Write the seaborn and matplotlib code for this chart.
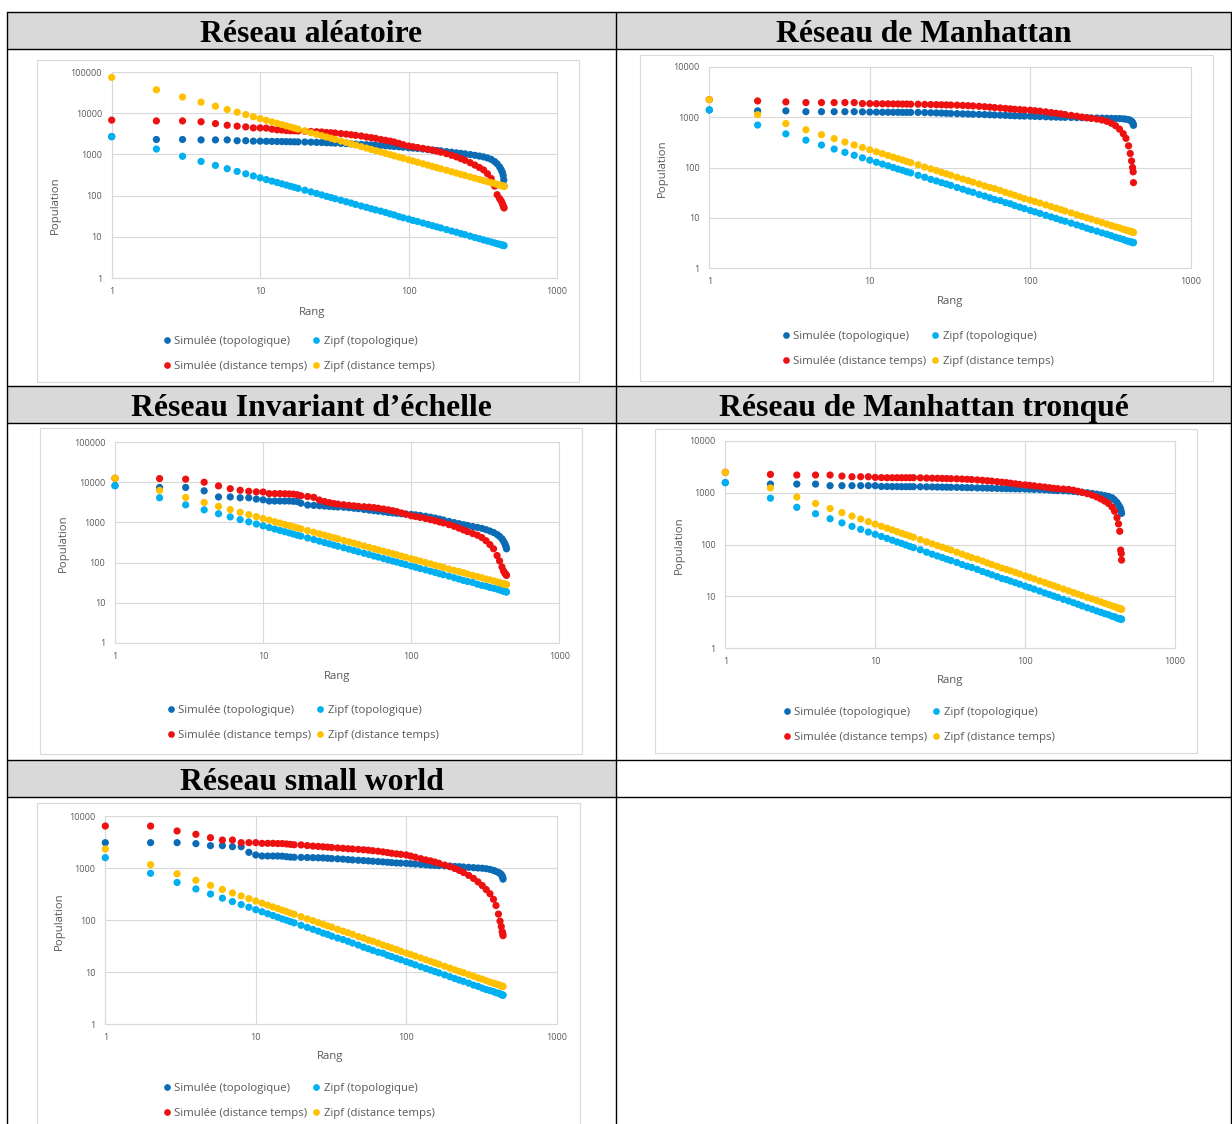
import pandas as pd
import matplotlib
matplotlib.use('Agg')
import matplotlib.pyplot as plt
from matplotlib.lines import Line2D
from matplotlib.patches import Rectangle
from matplotlib.ticker import NullLocator
import seaborn as sns

# Rangs communs à toutes les séries
rangs = [1, 2, 3, 4, 5, 6, 7, 8, 9, 10, 11, 12, 13, 14, 15, 16, 17, 18,
         20, 22, 24, 26, 28, 30, 32, 35, 38, 41, 44, 48,
         52, 56, 60, 65, 70, 75, 80, 86, 92, 100,
         107, 115, 125, 135, 145, 155, 165, 180, 195, 210,
         225, 240, 260, 280, 300, 320, 340, 360, 380, 395,
         410, 420, 428, 434, 438, 440]

# Réseau aléatoire
alea_sim_topo = [2700, 2300, 2300, 2250, 2250, 2250, 2150, 2150, 2100, 2100, 2080, 2070, 2060, 2050, 2040, 2030, 2020, 2010,
                 2000, 1980, 1960, 1940, 1920, 1900, 1880, 1850, 1830, 1800, 1780, 1750,
                 1720, 1700, 1680, 1650, 1620, 1590, 1560, 1530, 1490, 1450,
                 1420, 1390, 1350, 1310, 1280, 1250, 1220, 1170, 1130, 1090,
                 1060, 1030, 990, 950, 910, 870, 820, 760, 670, 590,
                 500, 430, 370, 310, 240, 170]
alea_zipf_topo = [2700, 1350, 900, 675, 540, 450, 386, 338, 300, 270, 245, 225, 208, 193, 180, 169, 159, 150,
                  135, 123, 113, 104, 96, 90, 84, 77, 71, 66, 61, 56,
                  52, 48, 45, 42, 39, 36, 34, 31, 29, 27,
                  25, 23.5, 21.6, 20, 18.6, 17.4, 16.4, 15, 13.8, 12.9,
                  12, 11.3, 10.4, 9.6, 9.0, 8.4, 7.9, 7.5, 7.1, 6.8,
                  6.6, 6.4, 6.3, 6.2, 6.2, 6.1]
alea_sim_temps = [6800, 6500, 6500, 6200, 5600, 5100, 4850, 4650, 4400, 4400, 4350, 4100, 3950, 3900, 3800, 3750, 3750, 3700,
                  3650, 3600, 3550, 3500, 3400, 3350, 3300, 3200, 3100, 3000, 2900, 2800,
                  2650, 2550, 2450, 2300, 2200, 2100, 2000, 1850, 1720, 1600,
                  1530, 1470, 1400, 1330, 1260, 1200, 1130, 1040, 950, 870,
                  790, 720, 630, 550, 480, 420, 340, 260, 170, 105,
                  85, 75, 65, 57, 52, 50]
alea_zipf_temps = [74000, 37000, 24700, 18500, 14800, 12300, 10600, 9250, 8220, 7400, 6730, 6170, 5690, 5290, 4930, 4630, 4350, 4110,
                   3700, 3360, 3080, 2850, 2640, 2470, 2310, 2110, 1950, 1800, 1680, 1540,
                   1420, 1320, 1230, 1140, 1060, 987, 925, 860, 804, 740,
                   692, 643, 592, 548, 510, 477, 448, 411, 379, 352,
                   329, 308, 285, 264, 247, 231, 218, 206, 195, 187,
                   180, 176, 173, 171, 169, 168]

# Réseau de Manhattan
manh_sim_topo = [1400, 1340, 1340, 1290, 1290, 1290, 1290, 1290, 1280, 1270, 1265, 1260, 1260, 1255, 1255, 1250, 1250, 1250,
                 1250, 1240, 1230, 1220, 1210, 1200, 1190, 1180, 1170, 1160, 1150, 1140,
                 1130, 1120, 1110, 1100, 1090, 1080, 1070, 1060, 1055, 1050,
                 1040, 1030, 1020, 1010, 1005, 1000, 995, 990, 985, 980,
                 975, 970, 965, 960, 955, 950, 945, 940, 930, 915,
                 895, 870, 830, 790, 740, 690]
manh_zipf_topo = [1400, 700, 467, 350, 280, 233, 200, 175, 156, 140, 127, 117, 108, 100, 93, 88, 82, 78,
                  70, 64, 58, 54, 50, 47, 44, 40, 37, 34, 32, 29,
                  27, 25, 23, 22, 20, 19, 17.5, 16.3, 15.2, 14,
                  13.1, 12.2, 11.2, 10.4, 9.7, 9.0, 8.5, 7.8, 7.2, 6.7,
                  6.2, 5.8, 5.4, 5.0, 4.7, 4.4, 4.1, 3.9, 3.7, 3.5,
                  3.4, 3.3, 3.3, 3.2, 3.2, 3.2]
manh_sim_temps = [2250, 2110, 2020, 1960, 1960, 1960, 1960, 1960, 1870, 1870, 1860, 1850, 1850, 1840, 1840, 1830, 1830, 1820,
                  1820, 1800, 1790, 1780, 1770, 1760, 1750, 1740, 1720, 1700, 1680, 1650,
                  1620, 1590, 1560, 1530, 1500, 1470, 1440, 1420, 1400, 1380,
                  1350, 1320, 1280, 1240, 1200, 1170, 1130, 1090, 1050, 1010,
                  980, 950, 920, 880, 830, 760, 680, 580, 470, 380,
                  270, 190, 135, 100, 82, 50]
manh_zipf_temps = [2250, 1125, 750, 563, 450, 375, 321, 281, 250, 225, 205, 188, 173, 161, 150, 141, 132, 125,
                   113, 102, 94, 87, 80, 75, 70, 64, 59, 55, 51, 47,
                   43, 40, 38, 35, 32, 30, 28, 26, 24, 22.5,
                   21, 19.6, 18, 16.7, 15.5, 14.5, 13.6, 12.5, 11.5, 10.7,
                   10, 9.4, 8.7, 8.0, 7.5, 7.0, 6.6, 6.3, 5.9, 5.7,
                   5.5, 5.4, 5.3, 5.2, 5.1, 5.1]

# Réseau invariant d'échelle
inv_sim_topo = [8200, 7400, 7400, 6100, 4300, 4300, 4100, 4100, 3800, 3650, 3400, 3400, 3400, 3400, 3400, 3350, 3300, 3000,
                2700, 2650, 2600, 2550, 2500, 2450, 2420, 2380, 2320, 2250, 2200, 2100,
                2020, 1960, 1900, 1830, 1770, 1720, 1680, 1640, 1610, 1580,
                1540, 1490, 1420, 1350, 1280, 1210, 1150, 1060, 990, 930,
                880, 840, 790, 750, 710, 660, 610, 560, 500, 450,
                390, 340, 300, 265, 240, 220]
inv_zipf_topo = [8200, 4100, 2730, 2050, 1640, 1370, 1170, 1030, 911, 820, 745, 683, 631, 586, 547, 513, 482, 456,
                 410, 373, 342, 315, 293, 273, 256, 234, 216, 200, 186, 171,
                 158, 146, 137, 126, 117, 109, 103, 95, 89, 82,
                 77, 71, 66, 61, 57, 53, 50, 46, 42, 39,
                 36, 34, 32, 29, 27, 26, 24, 23, 22, 21,
                 20, 19.5, 19.2, 18.9, 18.7, 18.6]
inv_sim_temps = [12500, 12300, 11900, 10000, 8100, 6900, 6300, 5950, 5750, 5700, 5200, 5200, 5200, 5150, 5100, 5050, 4900, 4600,
                 4400, 4200, 3600, 3300, 3100, 2950, 2850, 2750, 2650, 2580, 2500, 2450,
                 2400, 2330, 2250, 2150, 2050, 1950, 1850, 1720, 1600, 1460,
                 1400, 1330, 1250, 1170, 1100, 1030, 970, 880, 800, 720,
                 650, 590, 530, 480, 420, 350, 280, 220, 150, 110,
                 78, 62, 55, 52, 50, 48]
inv_zipf_temps = [12500, 6250, 4170, 3130, 2500, 2080, 1790, 1560, 1390, 1250, 1140, 1040, 962, 893, 833, 781, 735, 694,
                  625, 568, 521, 481, 446, 417, 391, 357, 329, 305, 284, 260,
                  240, 223, 208, 192, 179, 167, 156, 145, 136, 125,
                  117, 109, 100, 93, 86, 81, 76, 69, 64, 60,
                  56, 52, 48, 45, 42, 39, 37, 35, 33, 32,
                  30, 29.8, 29.2, 28.8, 28.5, 28.4]

# Réseau de Manhattan tronqué
tronq_sim_topo = [1570, 1470, 1470, 1470, 1370, 1370, 1370, 1370, 1370, 1370, 1320, 1320, 1315, 1315, 1310, 1310, 1310, 1310,
                  1305, 1300, 1295, 1290, 1285, 1280, 1275, 1270, 1260, 1255, 1250, 1240,
                  1235, 1230, 1220, 1210, 1205, 1200, 1195, 1190, 1185, 1180,
                  1170, 1160, 1150, 1140, 1125, 1110, 1100, 1090, 1080, 1060,
                  1040, 1020, 1000, 970, 940, 910, 880, 850, 800, 730,
                  650, 580, 530, 480, 430, 400]
tronq_zipf_topo = [1570, 785, 523, 393, 314, 262, 224, 196, 174, 157, 143, 131, 121, 112, 105, 98, 92, 87,
                   79, 71, 65, 60, 56, 52, 49, 45, 41, 38, 36, 33,
                   30, 28, 26, 24, 22, 21, 19.6, 18.3, 17.1, 15.7,
                   14.7, 13.7, 12.6, 11.6, 10.8, 10.1, 9.5, 8.7, 8.1, 7.5,
                   7.0, 6.5, 6.0, 5.6, 5.2, 4.9, 4.6, 4.4, 4.1, 4.0,
                   3.8, 3.7, 3.7, 3.6, 3.6, 3.6]
tronq_sim_temps = [2480, 2260, 2200, 2200, 2200, 2100, 2040, 2040, 2040, 1980, 1960, 1950, 1950, 1950, 1950, 1950, 1950, 1950,
                   1940, 1920, 1910, 1900, 1890, 1880, 1870, 1860, 1840, 1820, 1800, 1770,
                   1740, 1710, 1680, 1640, 1600, 1570, 1530, 1490, 1450, 1420,
                   1390, 1360, 1320, 1290, 1250, 1220, 1200, 1180, 1160, 1120,
                   1070, 1020, 960, 900, 830, 760, 690, 620, 530, 440,
                   330, 250, 180, 78, 67, 50]
tronq_zipf_temps = [2480, 1240, 827, 620, 496, 413, 354, 310, 276, 248, 225, 207, 191, 177, 165, 155, 146, 138,
                    124, 113, 103, 95, 89, 83, 78, 71, 65, 60, 56, 52,
                    48, 44, 41, 38, 35, 33, 31, 29, 27, 24.8,
                    23.2, 21.6, 19.8, 18.4, 17.1, 16, 15, 13.8, 12.7, 11.8,
                    11, 10.3, 9.5, 8.9, 8.3, 7.8, 7.3, 6.9, 6.5, 6.3,
                    6.0, 5.9, 5.8, 5.7, 5.7, 5.6]

# Réseau small world
sw_sim_topo = [3070, 3070, 3070, 2940, 2690, 2690, 2570, 2570, 2000, 1780, 1700, 1700, 1700, 1700, 1690, 1650, 1620, 1610,
               1600, 1590, 1580, 1570, 1560, 1540, 1520, 1500, 1480, 1450, 1430, 1410,
               1390, 1370, 1350, 1330, 1310, 1290, 1270, 1250, 1240, 1230,
               1210, 1190, 1170, 1150, 1130, 1120, 1110, 1100, 1090, 1070,
               1060, 1045, 1030, 1015, 1000, 990, 970, 940, 900, 860,
               820, 790, 750, 700, 660, 610]
sw_zipf_topo = [1580, 790, 527, 395, 316, 263, 226, 198, 176, 158, 144, 132, 122, 113, 105, 99, 93, 88,
                79, 72, 66, 61, 56, 53, 49, 45, 42, 39, 36, 33,
                30, 28, 26, 24, 23, 21, 19.8, 18.4, 17.2, 15.8,
                14.8, 13.7, 12.6, 11.7, 10.9, 10.2, 9.6, 8.8, 8.1, 7.5,
                7.0, 6.6, 6.1, 5.6, 5.3, 4.9, 4.6, 4.4, 4.2, 4.0,
                3.9, 3.8, 3.7, 3.6, 3.6, 3.6]
sw_sim_temps = [6420, 6400, 5150, 4450, 3830, 3450, 3450, 3070, 3070, 3070, 2980, 2980, 2980, 2950, 2950, 2900, 2850, 2800,
                2780, 2700, 2640, 2600, 2560, 2520, 2480, 2430, 2390, 2350, 2320, 2280,
                2240, 2200, 2150, 2100, 2040, 1980, 1920, 1870, 1830, 1780,
                1700, 1610, 1510, 1430, 1370, 1300, 1230, 1140, 1060, 980,
                900, 820, 720, 630, 540, 460, 385, 320, 250, 190,
                130, 95, 75, 60, 55, 50]
sw_zipf_temps = [2320, 1160, 773, 580, 464, 387, 331, 290, 258, 232, 211, 193, 178, 166, 155, 145, 136, 129,
                 116, 105, 97, 89, 83, 77, 73, 66, 61, 57, 53, 48,
                 45, 41, 39, 36, 33, 31, 29, 27, 25, 23.2,
                 21.7, 20.2, 18.6, 17.2, 16, 15, 14.1, 12.9, 11.9, 11,
                 10.3, 9.7, 8.9, 8.3, 7.7, 7.3, 6.8, 6.4, 6.1, 5.9,
                 5.7, 5.5, 5.4, 5.3, 5.3, 5.3]

series = ['Simulée (topologique)', 'Zipf (topologique)',
          'Simulée (distance temps)', 'Zipf (distance temps)']
couleurs = ['#0b6cb5', '#00b0f0', '#ee1111', '#ffc000']
gris_txt = '#595959'
gris_grille = '#d9d9d9'

W, H = 1232, 1124


def fx(x):
    return x / W


def fy(y):
    return 1 - y / H


# Position de chaque graphique (en pixels)
panneaux = [
    dict(titre='Réseau aléatoire', centre=(311.5, 42),
         valeurs=(alea_sim_topo, alea_zipf_topo, alea_sim_temps, alea_zipf_temps),
         cadre=(37, 60, 579, 382), trace=(111.7, 72, 557, 278), ymax=100000,
         pop=(55, 205), rang=(312, 312), leg=(299, 354)),
    dict(titre='Réseau de Manhattan', centre=(924, 42),
         valeurs=(manh_sim_topo, manh_zipf_topo, manh_sim_temps, manh_zipf_temps),
         cadre=(640, 55, 1213, 381), trace=(709.3, 67, 1190.7, 268), ymax=10000,
         pop=(662, 168), rang=(950, 301), leg=(918, 349)),
    dict(titre='Réseau Invariant d’échelle', centre=(311.5, 416),
         valeurs=(inv_sim_topo, inv_zipf_topo, inv_sim_temps, inv_zipf_temps),
         cadre=(40, 428, 582, 754), trace=(115, 442, 559.3, 643), ymax=100000,
         pop=(63, 543), rang=(337, 676), leg=(303, 723)),
    dict(titre='Réseau de Manhattan tronqué', centre=(924, 416),
         valeurs=(tronq_sim_topo, tronq_zipf_topo, tronq_sim_temps, tronq_zipf_temps),
         cadre=(655, 429, 1197, 753), trace=(725.3, 441, 1175, 648), ymax=10000,
         pop=(679, 545), rang=(950, 680), leg=(919, 725)),
    dict(titre='Réseau small world', centre=(311.5, 790),
         valeurs=(sw_sim_topo, sw_zipf_topo, sw_sim_temps, sw_zipf_temps),
         cadre=(37, 803, 580, 1135), trace=(105.3, 816, 556.7, 1024), ymax=10000,
         pop=(59, 921), rang=(330, 1056), leg=(299, 1101)),
]

sns.set_style('white')
plt.rcParams['font.family'] = ['Open Sans', 'DejaVu Sans']

fig = plt.figure(figsize=(W / 100, H / 100), dpi=100)
fig.patch.set_facecolor('white')

# Tableau : en-têtes grisés et bordures
for y0, x1 in [(12, 1231), (386, 1231), (760, 616)]:
    fig.add_artist(Rectangle((fx(7), fy(y0 + 37)), (x1 - 7) / W, 37 / H,
                             transform=fig.transFigure, facecolor='#d9d9d9',
                             edgecolor='none', zorder=-2))
for y in [12, 49, 386, 423, 760, 797]:
    fig.add_artist(Line2D([fx(7), fx(1231)], [fy(y), fy(y)], transform=fig.transFigure,
                          color='black', lw=1.0, zorder=3))
for x in [7, 616, 1231]:
    fig.add_artist(Line2D([fx(x), fx(x)], [fy(12), fy(1124)], transform=fig.transFigure,
                          color='black', lw=1.0, zorder=3))

poignees = [Line2D([], [], marker='o', ls='', color=c, markersize=3.8) for c in couleurs]
ordre = [0, 2, 1, 3]

for p in panneaux:
    fig.text(fx(p['centre'][0]), fy(p['centre'][1]), p['titre'], ha='center', va='baseline',
             fontsize=22.8, fontweight='bold', family='Liberation Serif', color='black')

    c0, c1, c2, c3 = p['cadre']
    fig.add_artist(Rectangle((fx(c0), fy(c3)), (c2 - c0) / W, (c3 - c1) / H,
                             transform=fig.transFigure, facecolor='white',
                             edgecolor=gris_grille, lw=0.8, zorder=-1))

    x0, y0, x1, y1 = p['trace']
    ax = fig.add_axes([fx(x0), fy(y1), (x1 - x0) / W, (y1 - y0) / H])
    ax.set_xscale('log')
    ax.set_yscale('log')

    df = pd.concat([pd.DataFrame({'Rang': rangs, 'Population': v, 'Série': s})
                    for s, v in zip(series, p['valeurs'])], ignore_index=True)
    sns.scatterplot(data=df, x='Rang', y='Population', hue='Série', hue_order=series,
                    palette=couleurs, s=27, linewidth=0, legend=False, ax=ax,
                    clip_on=False, zorder=3)

    ax.set_xlim(1, 1000)
    ax.set_ylim(1, p['ymax'])
    xt = [1, 10, 100, 1000]
    yt = [10 ** k for k in range(len(str(p['ymax'])))]
    ax.set_xticks(xt, [str(t) for t in xt])
    ax.set_yticks(yt, [str(t) for t in yt])
    ax.xaxis.set_minor_locator(NullLocator())
    ax.yaxis.set_minor_locator(NullLocator())
    ax.tick_params(length=0, labelsize=6.5, labelcolor=gris_txt)
    ax.tick_params(axis='x', pad=6.5)
    ax.tick_params(axis='y', pad=7)
    ax.grid(True, color=gris_grille, lw=0.8)
    for sp in ax.spines.values():
        sp.set_color(gris_grille)
        sp.set_linewidth(0.8)
    ax.set_xlabel('')
    ax.set_ylabel('')
    ax.set_facecolor('white')

    fig.text(fx(p['pop'][0]), fy(p['pop'][1]), 'Population', rotation=90,
             ha='center', va='center', fontsize=8.2, color=gris_txt)
    fig.text(fx(p['rang'][0]), fy(p['rang'][1]), 'Rang',
             ha='center', va='center', fontsize=8.2, color=gris_txt)

    fig.legend([poignees[i] for i in ordre], [series[i] for i in ordre],
               loc='center', bbox_to_anchor=(fx(p['leg'][0]), fy(p['leg'][1])),
               ncol=2, frameon=False, fontsize=8.2, labelcolor=gris_txt,
               handlelength=0.6, handletextpad=0.35, columnspacing=0.5,
               labelspacing=1.15, borderpad=0)

fig.savefig('out.png', dpi=100)
